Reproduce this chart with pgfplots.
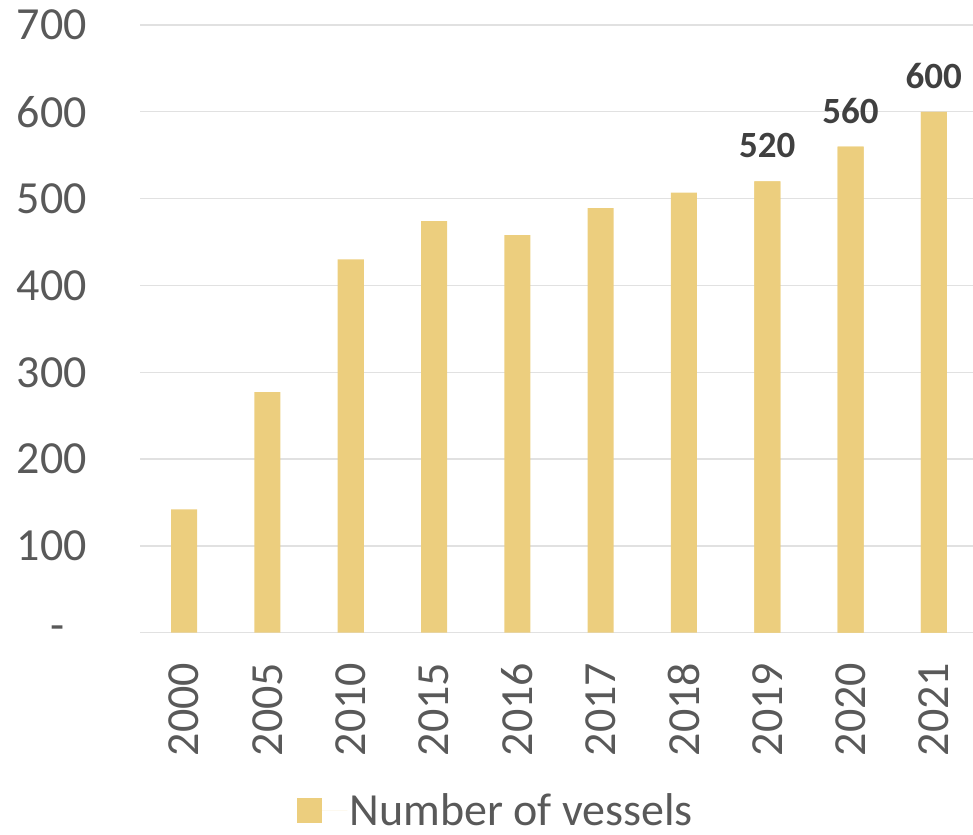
\documentclass[border=0pt]{standalone}
\usepackage{fontspec}
\setmainfont{Carlito}
\usepackage{pgfplots}
\pgfplotsset{compat=1.18}
\definecolor{barcol}{RGB}{236,206,126}
\definecolor{txt}{RGB}{89,89,89}
\definecolor{lab}{RGB}{64,64,64}
\definecolor{gridc}{RGB}{225,225,225}
\begin{document}
\begin{tikzpicture}
\begin{axis}[
  at={(0,0)}, anchor=south west,
  scale only axis,
  width=838bp, height=607.7bp,
  xmin=-0.53, xmax=9.53,
  ymin=0, ymax=700,
  axis line style={draw=none},
  ymajorgrids, grid style={draw=gridc, line width=1.3bp},
  major tick length=0pt,
  ytick={0,100,200,300,400,500,600,700},
  yticklabels={{-\kern22bp},100,200,300,400,500,600,700},
  xtick={0,1,2,3,4,5,6,7,8,9},
  xticklabels={2000,2005,2010,2015,2016,2017,2018,2019,2020,2021},
  yticklabel style={font=\fontsize{46bp}{50bp}\selectfont, text=txt, inner sep=0pt, anchor=east},
  yticklabel shift=53bp,
  xticklabel style={font=\fontsize{46bp}{50bp}\selectfont, text=txt, inner sep=0pt, rotate=90, anchor=east},
  xticklabel shift=30bp,
  /pgf/number format/assume math mode=true,
  legend style={draw=none, at={(0.425,-0.293)}, anchor=center,
    font=\fontsize{46bp}{50bp}\selectfont, text=txt, fill=none},
  legend image code/.code={\fill[barcol] (0bp,-12.5bp) rectangle (25bp,12.5bp); \path (0bp,0bp) -- (50bp,0bp);},
]
\addplot[ybar, bar width=26bp, bar shift=0pt, fill=barcol, draw=none]
  coordinates {(0,142) (1,277) (2,430) (3,474) (4,458) (5,489) (6,507) (7,520) (8,560) (9,600)};
\addlegendentry{Number of vessels}
\addplot[ybar, bar width=26bp, bar shift=0pt, fill=barcol, draw=none,
  nodes near coords, every node near coord/.append style={font=\bfseries\fontsize{37bp}{40bp}\selectfont, text=lab, anchor=south, inner sep=0pt, yshift=23bp}]
  coordinates {(7,520) (8,560) (9,600)};
\end{axis}
\pgfresetboundingbox
\path[use as bounding box] (-140bp,-202.3bp) rectangle (833bp,632.7bp);
\end{tikzpicture}
\end{document}
